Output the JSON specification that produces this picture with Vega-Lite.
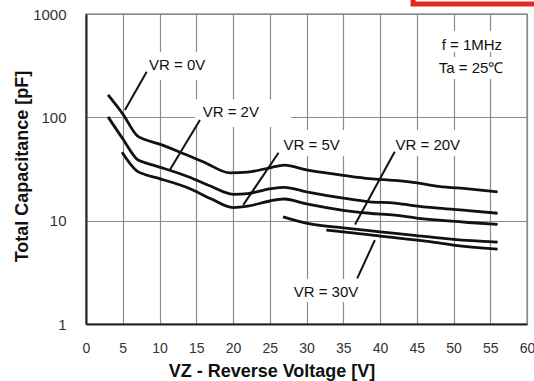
{
  "$schema": "https://vega.github.io/schema/vega-lite/v6.json",
  "width": 441,
  "height": 310,
  "autosize": {"type": "none"},
  "padding": {"left": 86, "top": 14, "right": 7, "bottom": 57},
  "background": "white",
  "config": {
    "view": {"stroke": "#999", "strokeWidth": 1.5},
    "font": "Liberation Sans"
  },
  "datasets": {
    "curves": [
      {"series": "0V", "x": 3.0, "y": 165}, {"series": "0V", "x": 5.0, "y": 108}, {"series": "0V", "x": 7.0, "y": 66}, {"series": "0V", "x": 8.0, "y": 61}, {"series": "0V", "x": 10, "y": 55}, {"series": "0V", "x": 12.8, "y": 46}, {"series": "0V", "x": 16, "y": 37}, {"series": "0V", "x": 19.6, "y": 29}, {"series": "0V", "x": 22, "y": 29.5}, {"series": "0V", "x": 25, "y": 32.5}, {"series": "0V", "x": 27, "y": 34.5}, {"series": "0V", "x": 30, "y": 31}, {"series": "0V", "x": 35, "y": 27.5}, {"series": "0V", "x": 38.6, "y": 25.5}, {"series": "0V", "x": 42, "y": 24.5}, {"series": "0V", "x": 44.5, "y": 23.5}, {"series": "0V", "x": 48, "y": 21.5}, {"series": "0V", "x": 52, "y": 20.3}, {"series": "0V", "x": 56, "y": 19},
      {"series": "2V", "x": 3.0, "y": 101}, {"series": "2V", "x": 5.0, "y": 62}, {"series": "2V", "x": 7.0, "y": 39}, {"series": "2V", "x": 8.0, "y": 36.5}, {"series": "2V", "x": 10, "y": 33}, {"series": "2V", "x": 14, "y": 26.5}, {"series": "2V", "x": 17, "y": 21.5}, {"series": "2V", "x": 20, "y": 18}, {"series": "2V", "x": 22, "y": 18.3}, {"series": "2V", "x": 25, "y": 20.3}, {"series": "2V", "x": 27, "y": 21}, {"series": "2V", "x": 30, "y": 19}, {"series": "2V", "x": 35, "y": 16.5}, {"series": "2V", "x": 38.6, "y": 15.2}, {"series": "2V", "x": 42, "y": 14.8}, {"series": "2V", "x": 44.5, "y": 14}, {"series": "2V", "x": 48, "y": 13.2}, {"series": "2V", "x": 52, "y": 12.5}, {"series": "2V", "x": 56, "y": 11.8},
      {"series": "5V", "x": 4.9, "y": 46}, {"series": "5V", "x": 7.0, "y": 30}, {"series": "5V", "x": 8.0, "y": 28}, {"series": "5V", "x": 10, "y": 25.5}, {"series": "5V", "x": 14, "y": 20.6}, {"series": "5V", "x": 17, "y": 16.3}, {"series": "5V", "x": 20, "y": 13.4}, {"series": "5V", "x": 22, "y": 13.8}, {"series": "5V", "x": 25, "y": 15.5}, {"series": "5V", "x": 27, "y": 16.2}, {"series": "5V", "x": 30, "y": 14.5}, {"series": "5V", "x": 35, "y": 12.6}, {"series": "5V", "x": 38.6, "y": 11.8}, {"series": "5V", "x": 42, "y": 11.3}, {"series": "5V", "x": 45, "y": 10.6}, {"series": "5V", "x": 48, "y": 10.1}, {"series": "5V", "x": 52, "y": 9.6}, {"series": "5V", "x": 56, "y": 9.2},
      {"series": "20V", "x": 26.8, "y": 10.9}, {"series": "20V", "x": 30.5, "y": 9.3}, {"series": "20V", "x": 35, "y": 8.5}, {"series": "20V", "x": 40, "y": 7.8}, {"series": "20V", "x": 44, "y": 7.3}, {"series": "20V", "x": 48, "y": 6.8}, {"series": "20V", "x": 50, "y": 6.6}, {"series": "20V", "x": 56, "y": 6.2},
      {"series": "30V", "x": 32.7, "y": 8.1}, {"series": "30V", "x": 35, "y": 7.8}, {"series": "30V", "x": 40, "y": 7.1}, {"series": "30V", "x": 44, "y": 6.6}, {"series": "30V", "x": 48, "y": 6.1}, {"series": "30V", "x": 50, "y": 5.8}, {"series": "30V", "x": 56, "y": 5.3}
    ],
    "boxes": [
      {"x": 7.3, "x2": 17.1, "y": 429, "y2": 230},
      {"x": 14.8, "x2": 27.9, "y": 150, "y2": 80.5},
      {"x": 25.9, "x2": 35.6, "y": 75.4, "y2": 42.2},
      {"x": 41.1, "x2": 52.0, "y": 75.4, "y2": 42.2},
      {"x": 47.1, "x2": 57.9, "y": 684, "y2": 429},
      {"x": 46.8, "x2": 57.9, "y": 384, "y2": 235},
      {"x": 27.2, "x2": 38.1, "y": 2.72, "y2": 1.63}
    ],
    "leaders": [
      {"x": 8.26, "y": 276, "x2": 5.3, "y2": 118},
      {"x": 15.5, "y": 94.3, "x2": 11.4, "y2": 30.9},
      {"x": 26.2, "y": 45.4, "x2": 21.4, "y2": 14.2},
      {"x": 42.0, "y": 46.5, "x2": 36.6, "y2": 9.2},
      {"x": 39.3, "y": 6.49, "x2": 36.9, "y2": 2.76}
    ],
    "labels": [
      {"x": 12.4, "y": 287, "label": "VR = 0V"},
      {"x": 19.7, "y": 100.7, "label": "VR = 2V"},
      {"x": 30.7, "y": 48.2, "label": "VR = 5V"},
      {"x": 46.5, "y": 48.2, "label": "VR = 20V"},
      {"x": 32.65, "y": 1.82, "label": "VR = 30V"},
      {"x": 52.5, "y": 448, "label": "f = 1MHz"},
      {"x": 52.4, "y": 268, "label": "Ta = 25℃"}
    ],
    "frame": [
      {"x": 44.5, "x2": 70, "y": 1250, "y2": 2440}
    ]
  },
  "encoding": {
    "x": {
      "field": "x",
      "type": "quantitative",
      "scale": {"domain": [0, 60], "nice": false, "zero": false},
      "axis": {
        "title": "VZ - Reverse Voltage [V]",
        "values": [0, 5, 10, 15, 20, 25, 30, 35, 40, 45, 50, 55, 60],
        "format": "d",
        "grid": true,
        "gridColor": "#8c8c8c",
        "gridWidth": 1.2,
        "gridOpacity": 1,
        "ticks": false,
        "tickSize": 0,
        "labelPadding": 17,
        "labelFontSize": 14,
        "labelColor": "#333",
        "labelFlush": false,
        "labelOverlap": false,
        "labelFont": "Liberation Sans",
        "domainColor": "#222",
        "domainWidth": 2,
        "titleFont": "Liberation Sans",
        "titleFontSize": 18,
        "titleFontWeight": "bold",
        "titleColor": "#111",
        "titleX": 185.5,
        "titleY": 52.5,
        "titleBaseline": "alphabetic"
      }
    },
    "y": {
      "field": "y",
      "type": "quantitative",
      "scale": {"type": "log", "domain": [1, 1000], "nice": false},
      "axis": {
        "title": "Total Capacitance [pF]",
        "values": [1, 10, 100, 1000],
        "format": "d",
        "grid": true,
        "gridColor": "#8c8c8c",
        "gridWidth": 1.2,
        "gridOpacity": 1,
        "ticks": false,
        "tickSize": 0,
        "labelPadding": 20,
        "labelFontSize": 15,
        "labelColor": "#333",
        "labelFlush": false,
        "labelOverlap": false,
        "labelFont": "Liberation Sans",
        "domainColor": "#222",
        "domainWidth": 2,
        "titleFont": "Liberation Sans",
        "titleFontSize": 18,
        "titleFontWeight": "bold",
        "titleColor": "#111",
        "titleX": -59,
        "titleY": 152,
        "titleBaseline": "alphabetic"
      }
    }
  },
  "layer": [
    {
      "data": {"name": "boxes"},
      "mark": {"type": "rect", "fill": "white", "strokeWidth": 0},
      "encoding": {"x2": {"field": "x2"}, "y2": {"field": "y2"}}
    },
    {
      "data": {"name": "curves"},
      "mark": {"type": "line", "color": "#111", "strokeWidth": 2.8, "interpolate": "monotone"},
      "encoding": {"detail": {"field": "series", "type": "nominal"}}
    },
    {
      "data": {"name": "leaders"},
      "mark": {"type": "rule", "color": "#111", "strokeWidth": 2},
      "encoding": {"x2": {"field": "x2"}, "y2": {"field": "y2"}}
    },
    {
      "data": {"name": "labels"},
      "mark": {"type": "text", "align": "center", "baseline": "alphabetic", "fontSize": 15, "font": "Liberation Sans", "color": "#111"},
      "encoding": {"text": {"field": "label", "type": "nominal"}}
    },
    {
      "data": {"name": "frame"},
      "mark": {"type": "rect", "fill": "transparent", "stroke": "#e02a22", "strokeWidth": 5, "clip": false},
      "encoding": {"x2": {"field": "x2"}, "y2": {"field": "y2"}}
    }
  ]
}
